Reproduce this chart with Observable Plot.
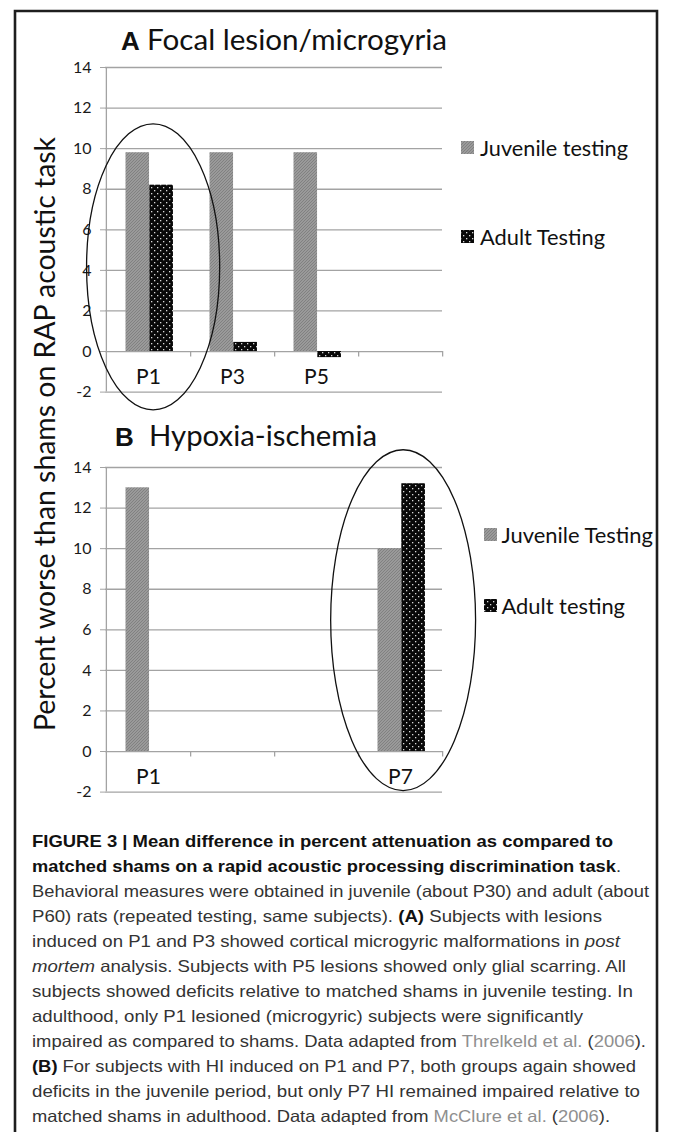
<!DOCTYPE html>
<html>
<head>
<meta charset="utf-8">
<script src="https://cdn.jsdelivr.net/npm/d3@7"></script>
<script src="https://cdn.jsdelivr.net/npm/@observablehq/plot@0.6"></script>
<style>
  html, body { margin: 0; padding: 0; background: #fff; }
  #page { position: relative; width: 673px; height: 1132px; overflow: hidden; background: #fff; }
  .panel { position: absolute; left: 0; }
</style>
</head>
<body>
<div id="page"></div>
<script>
// ---------------- data ----------------
const categoriesA = ["P1", "P3", "P5", " "];
const juvenileA = [9.8, 9.8, 9.8, null];
const adultA = [8.2, 0.45, -0.3, null];
const seriesA = ["Juvenile testing", "Adult Testing"];
const titleA = ["A", "Focal lesion/microgyria"];
const circledA = {category: "P1", span: [-2.9, 11.2]};

const categoriesB = ["P1", " ", "  ", "P7"];
const juvenileB = [13.0, null, null, 10.0];
const adultB = [0, null, null, 13.2];
const seriesB = ["Juvenile Testing", "Adult testing"];
const titleB = ["B", "Hypoxia-ischemia"];
const circledB = {category: "P7", span: [-1.95, 14.85]};

const yTicks = [-2, 0, 2, 4, 6, 8, 10, 12, 14];
const yLabel = "Percent worse than shams on RAP acoustic task";

const captionLines = [
  [{t: "FIGURE 3 | Mean difference in percent attenuation as compared to", b: 1}],
  [{t: "matched shams on a rapid acoustic processing discrimination task", b: 1}, {t: "."}],
  [{t: "Behavioral measures were obtained in juvenile (about P30) and adult (about"}],
  [{t: "P60) rats (repeated testing, same subjects). "}, {t: "(A)", b: 1}, {t: " Subjects with lesions"}],
  [{t: "induced on P1 and P3 showed cortical microgyric malformations in "}, {t: "post", i: 1}],
  [{t: "mortem", i: 1}, {t: " analysis. Subjects with P5 lesions showed only glial scarring. All"}],
  [{t: "subjects showed deficits relative to matched shams in juvenile testing. In"}],
  [{t: "adulthood, only P1 lesioned (microgyric) subjects were significantly"}],
  [{t: "impaired as compared to shams. Data adapted from "}, {t: "Threlkeld et al.", g: 1}, {t: " ("}, {t: "2006", g: 1}, {t: ")."}],
  [{t: "(B)", b: 1}, {t: " For subjects with HI induced on P1 and P7, both groups again showed"}],
  [{t: "deficits in the juvenile period, but only P7 HI remained impaired relative to"}],
  [{t: "matched shams in adulthood. Data adapted from "}, {t: "McClure et al.", g: 1}, {t: " ("}, {t: "2006", g: 1}, {t: ")."}]
];
const captionEnds = [613, 621, 649, 602, 620, 626, 633, 583, 646, 636, 640, 610];

// ---------------- layout ----------------
const W = 673, H = 400;
const mL = 105, mR = 231, mT = 67, mB = 8.4;
const bw = (W - mL - mR) / 4;
const GRID = "#a3a3a3";
const CHART_FONT = "Lato, 'Open Sans', sans-serif";

function panel(cats, juv, adult, circled, rxFactor, dxE) {
  const rows = [];
  cats.forEach((c, i) => {
    if (juv[i] != null) rows.push({cat: c, series: 0, value: juv[i]});
    if (adult[i] != null) rows.push({cat: c, series: 1, value: adult[i]});
  });
  const ellipse = (index, scales) => {
    const x = scales.x, y = scales.y;
    const cx = x(circled.category) + bw / 2 + dxE;
    const y0 = y(circled.span[0]), y1 = y(circled.span[1]);
    return d3.create("svg:ellipse")
      .attr("cx", cx).attr("cy", (y0 + y1) / 2)
      .attr("rx", rxFactor * bw).attr("ry", Math.abs(y0 - y1) / 2)
      .attr("fill", "none").attr("stroke", "#111").attr("stroke-width", 1.3)
      .node();
  };
  const svg = Plot.plot({
    width: W, height: H,
    marginLeft: mL, marginRight: mR, marginTop: mT, marginBottom: mB,
    x: {domain: cats, padding: 0, axis: null},
    y: {domain: [-2, 14]},
    style: {fontFamily: CHART_FONT, background: "transparent", overflow: "visible"},
    marks: [
      Plot.gridY(yTicks, {stroke: GRID, strokeOpacity: 1, strokeWidth: 1.3}),
      Plot.ruleX([cats[0]], {x: d => d, dx: -bw / 2, y1: -2, y2: 14, stroke: GRID, strokeWidth: 1.3}),
      Plot.ruleX(cats, {x: d => d, dx: bw / 2, y1: 0, y2: -0.27, stroke: GRID, strokeWidth: 1.3}),
      Plot.axisY(yTicks, {label: null, tickSize: 5, tickPadding: 9, stroke: GRID, fill: "#1a1a1a", fontSize: 16, tickFormat: d => String(d)}),
      Plot.barY(rows.filter(d => d.series === 0), {x: "cat", y: "value", fill: "url(#pat-gray)", insetLeft: 19.5, insetRight: bw - 43.3}),
      Plot.barY(rows.filter(d => d.series === 1), {x: "cat", y: "value", fill: "url(#pat-dots)", insetLeft: 43.3, insetRight: bw - 67.2}),
      Plot.text(cats, {x: d => d, frameAnchor: "bottom", lineAnchor: "middle", dy: -14.5, fontSize: 21, fill: "#111"}),
      ellipse
    ]
  });
  svg.style.overflow = "visible";
  return svg;
}

const page = d3.select("#page");
const divA = page.append("div").attr("class", "panel").style("top", "0px");
divA.node().appendChild(panel(categoriesA, juvenileA, adultA, circledA, 0.79, 5));
const divB = page.append("div").attr("class", "panel").style("top", "400px");
divB.node().appendChild(panel(categoriesB, juvenileB, adultB, circledB, 0.86, 3));

// ---------------- overlay: patterns, titles, legends, axis title, caption ----------------
const ov = page.append("svg")
  .attr("width", W).attr("height", 1132)
  .style("position", "absolute").style("left", "0px").style("top", "0px")
  .style("pointer-events", "none");
const defs = ov.append("defs");
const pg = defs.append("pattern").attr("id", "pat-gray").attr("patternUnits", "userSpaceOnUse").attr("width", 3).attr("height", 3);
pg.append("rect").attr("width", 3).attr("height", 3).attr("fill", "#9a9a9a");
pg.append("path").attr("d", "M-1,1 L1,-1 M0,3 L3,0 M2,4 L4,2").attr("stroke", "#7e7e7e").attr("stroke-width", 0.9);
const pd = defs.append("pattern").attr("id", "pat-dots").attr("patternUnits", "userSpaceOnUse").attr("width", 6).attr("height", 6);
pd.append("rect").attr("width", 6).attr("height", 6).attr("fill", "#080808");
pd.append("rect").attr("x", 1).attr("y", 1).attr("width", 1.3).attr("height", 1.3).attr("fill", "#d8d8d8");
pd.append("rect").attr("x", 4).attr("y", 4).attr("width", 1.3).attr("height", 1.3).attr("fill", "#d8d8d8");

// frame
ov.append("path").attr("d", "M15,1140 V11 H657 V1140").attr("fill", "none").attr("stroke", "#1e1e1e").attr("stroke-width", 2.6);

function fittedText(x, y, str, width, attrs) {
  const t = ov.append("text").attr("x", x).attr("y", y)
    .attr("textLength", width).attr("lengthAdjust", "spacingAndGlyphs").text(str);
  Object.entries(attrs).forEach(([k, v]) => t.attr(k, v));
  return t;
}

// titles
function title(t, letterX, restX, restEnd, baseline) {
  ov.append("text").attr("x", letterX).attr("y", baseline)
    .attr("font-family", "'Liberation Sans', Arial, sans-serif").attr("font-weight", "bold")
    .attr("font-size", 26).attr("fill", "#111").text(t[0]);
  fittedText(restX, baseline, t[1], restEnd - restX, {"font-family": CHART_FONT, "font-size": 28, "fill": "#111"});
}
title(titleA, 121, 147, 447, 50);
title(titleB, 115, 149, 377, 446);

// legends
function legend(series, sx, swatchY, textX, textEnds) {
  const fills = ["url(#pat-gray)", "url(#pat-dots)"];
  series.forEach((s, i) => {
    ov.append("rect").attr("x", sx).attr("y", swatchY[i]).attr("width", 13).attr("height", 13).attr("fill", fills[i]);
    fittedText(textX, swatchY[i] + 15, s, textEnds[i] - textX, {"font-family": CHART_FONT, "font-size": 21, "fill": "#111"});
  });
}
legend(seriesA, 461, [141, 230], 480, [628, 605]);
legend(seriesB, 484, [528, 599], 501.5, [653, 625]);

// y axis title
ov.append("text")
  .attr("transform", "translate(55,434) rotate(-90)")
  .attr("text-anchor", "middle")
  .attr("textLength", 594).attr("lengthAdjust", "spacingAndGlyphs")
  .attr("font-family", CHART_FONT).attr("font-size", 28).attr("fill", "#111")
  .text(yLabel);

// caption
captionLines.forEach((line, i) => {
  const t = ov.append("text").attr("x", 32).attr("y", 846.7 + 25 * i)
    .attr("textLength", captionEnds[i] - 32).attr("lengthAdjust", "spacingAndGlyphs")
    .attr("font-family", "'Liberation Sans', Arial, sans-serif").attr("font-size", 16.5)
    .attr("fill", "#333");
  line.forEach(seg => {
    const s = t.append("tspan").text(seg.t);
    if (seg.b) s.attr("font-weight", "bold").attr("fill", "#111");
    if (seg.i) s.attr("font-style", "italic");
    if (seg.g) s.attr("fill", "#8f8f8f");
  });
});
</script>
</body>
</html>
